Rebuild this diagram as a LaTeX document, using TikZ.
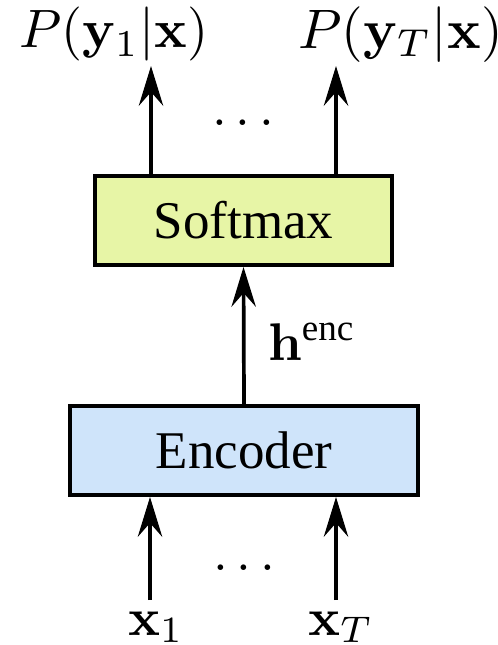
\documentclass[tikz,border=0pt]{standalone}
\usepackage{amsmath}
\usepackage[no-math]{fontspec}
\usetikzlibrary{arrows.meta}
\newfontfamily\timesfont{Liberation Serif}
\definecolor{softfill}{RGB}{231,245,166}
\definecolor{encfill}{RGB}{207,228,250}
\tikzset{
  block/.style={draw, line width=0.75pt, inner sep=0pt, font=\timesfont},
  flow/.style={-{Stealth[length=7.5pt,width=4.6pt,inset=2.6pt]}, line width=0.7pt},
  lbl/.style={inner sep=0pt, anchor=base west},
  dotsnode/.style={inner sep=0pt, anchor=base}
}
\begin{document}
\begin{tikzpicture}[x=0.1887pt, y=-0.1887pt]
  \useasboundingbox (0,0) rectangle (497,645);

  % blocks
  \node[block, fill=softfill, minimum width=56.0pt, minimum height=16.8pt] (soft) at (243.5,220.5) {Softmax};
  \node[block, fill=encfill, minimum width=65.7pt, minimum height=16.8pt] (enc) at (244,450.5) {Encoder};

  % output labels
  \node[lbl] (py1) at (18,48) {\scalebox{1.02}{$P(\mathbf{y}_1|\mathbf{x})$}};
  \node[lbl] (pyT) at (297,48) {\scalebox{1.05}{$P(\mathbf{y}_T|\mathbf{x})$}};

  % input labels
  \node[lbl] (x1) at (127,635) {$\mathbf{x}_1$};
  \node[lbl] (xT) at (307,635) {$\mathbf{x}_T$};

  % arrow ends
  \coordinate (t1) at (151,66);
  \coordinate (t2) at (336,66);
  \coordinate (b1) at (150,600);
  \coordinate (b2) at (336,600);

  % connectors
  \draw[flow] (soft.north -| t1) -- (t1);
  \draw[flow] (soft.north -| t2) -- (t2);
  \draw[flow] (enc.north) -- (soft.south);
  \draw[flow] (b1) -- (b1 |- enc.south);
  \draw[flow] (b2) -- (b2 |- enc.south);

  % hidden state label
  \node[lbl] (h) at (267,360) {$\mathbf{h}^{\text{\timesfont enc}}$};

  % ellipses
  \node[dotsnode] (dtop) at (243,125) {$.\,.\,.$};
  \node[dotsnode] (dbot) at (244,570) {$.\,.\,.$};
\end{tikzpicture}
\end{document}
